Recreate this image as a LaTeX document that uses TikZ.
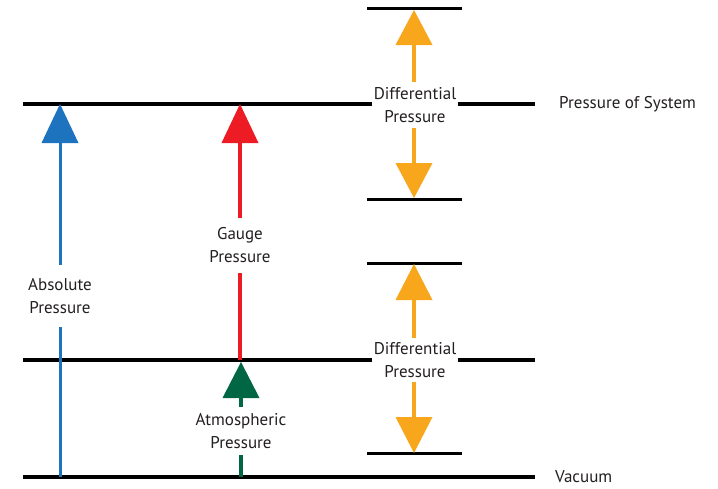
\documentclass[tikz,border=0pt]{standalone}
\usepackage{fontspec}
\setmainfont{PT Sans}
\usetikzlibrary{arrows.meta}
\definecolor{cblue}{RGB}{30,115,190}
\definecolor{cred}{RGB}{237,28,36}
\definecolor{cgreen}{RGB}{0,102,68}
\definecolor{corange}{RGB}{248,166,27}
\definecolor{ctext}{RGB}{35,31,32}
\tikzset{
  lbl/.style={font=\fontsize{17}{23}\selectfont, text=ctext, align=center, inner sep=0pt},
  mainline/.style={line width=4pt, black},
  shortline/.style={line width=3pt, black},
  tipped/.style={-{Triangle[width=37pt,length=#1,line width=0pt]}},
  bshaft/.style={line width=3pt, cblue},
  rshaft/.style={line width=3.5pt, cred},
  gshaft/.style={line width=3.5pt, cgreen},
  oshaft/.style={line width=3.5pt, corange},
}
\begin{document}
\begin{tikzpicture}[x=1pt,y=-1pt]
\useasboundingbox (0,0) rectangle (718,488);
% end points of the level lines
\coordinate (sysL) at (23,104);  \coordinate (sysR) at (535,104);
\coordinate (atmL) at (23,360);  \coordinate (atmR) at (535,360);
\coordinate (vacL) at (23,477);  \coordinate (vacR) at (535,477);
\coordinate (s1L) at (367,8);    \coordinate (s1R) at (462,8);
\coordinate (s2L) at (367,199);  \coordinate (s2R) at (462,199);
\coordinate (s3L) at (367,263);  \coordinate (s3R) at (462,263);
\coordinate (s4L) at (367,453);  \coordinate (s4R) at (462,453);
% labels
\node[lbl, minimum height=62pt] (absl) at (60,296) {Absolute\\Pressure};
\node[lbl, minimum height=55pt] (gauge) at (240,245.5) {Gauge\\Pressure};
\node[lbl, minimum height=48pt] (atm) at (241,431) {Atmospheric\\Pressure};
\node[lbl, minimum height=46pt, minimum width=86pt] (diff1) at (415,105) {Differential\\Pressure};
\node[lbl, minimum height=44pt, minimum width=86pt] (diff2) at (415,360) {Differential\\Pressure};
\node[lbl, anchor=west] (sys) at (559,104) {Pressure of System};
\node[lbl, anchor=west] (vac) at (555,477) {Vacuum};
% level lines
\draw[mainline] (sysL) -- (sysL -| diff1.west);
\draw[mainline] (sysR -| diff1.east) -- (sysR);
\draw[mainline] (atmL) -- (atmL -| diff2.west);
\draw[mainline] (atmR -| diff2.east) -- (atmR);
\draw[mainline] (vacL) -- (vacR);
\draw[shortline] (s1L) -- (s1R);
\draw[shortline] (s2L) -- (s2R);
\draw[shortline] (s3L) -- (s3R);
\draw[shortline] (s4L) -- (s4R);
% arrow end points
\coordinate (btop) at (60,104);  \coordinate (bbot) at (60,477);
\coordinate (rtop) at (240,104); \coordinate (rbot) at (240,360);
\coordinate (gtop) at (241,362); \coordinate (gbot) at (241,477);
\coordinate (o1t) at (414,10);   \coordinate (o1b) at (414,198);
\coordinate (o2t) at (414,264);  \coordinate (o2b) at (414,453);
% arrows
\draw[bshaft, tipped=39pt] (absl.north) -- (btop);
\draw[bshaft] (absl.south) -- (bbot);
\draw[rshaft, tipped=39pt] (gauge.north) -- (rtop);
\draw[rshaft] (gauge.south) -- (rbot);
\draw[gshaft, tipped=36pt] (atm.north) -- (gtop);
\draw[gshaft] (atm.south) -- (gbot);
\draw[oshaft, tipped=35pt] (diff1.north -| o1t) -- (o1t);
\draw[oshaft, tipped=35pt] (diff1.south -| o1b) -- (o1b);
\draw[oshaft, tipped=36pt] (diff2.north -| o2t) -- (o2t);
\draw[oshaft, tipped=36pt] (diff2.south -| o2b) -- (o2b);
\end{tikzpicture}
\end{document}
